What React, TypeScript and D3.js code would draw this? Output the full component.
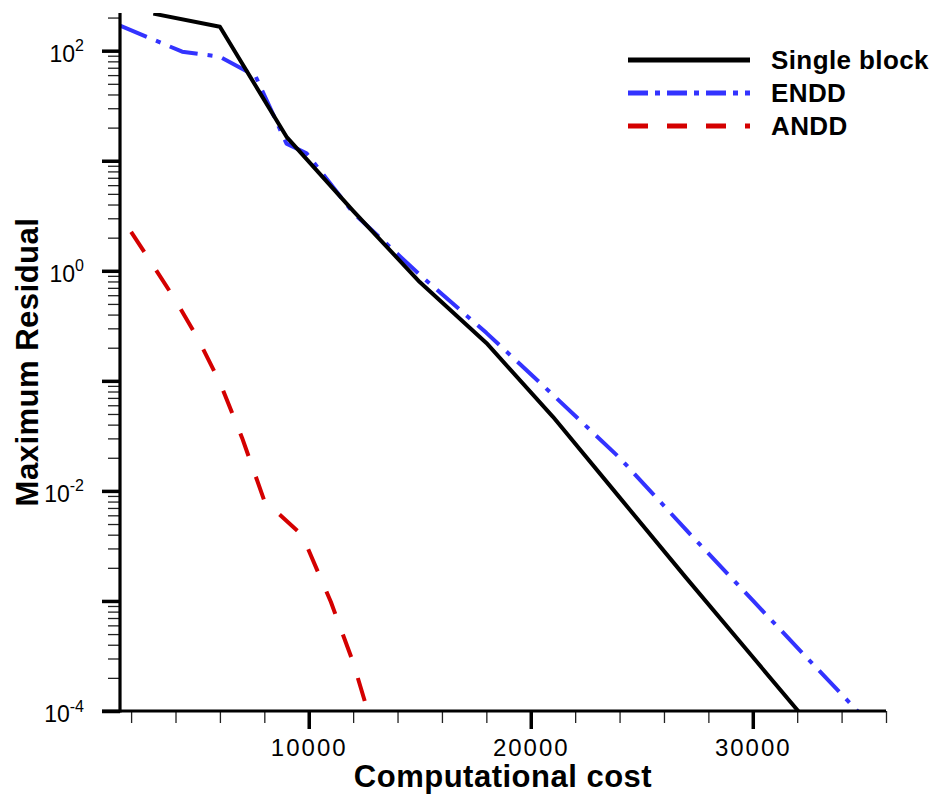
import { useEffect, useRef } from "react";
import * as d3 from "d3";

// Single block run
const singleCost = [3000, 6000, 9000, 12000, 15000, 18000, 21000, 24000, 27000, 30000, 33000];
const singleResidual = [217, 165, 16.5, 3.5, 0.79, 0.221, 0.0471, 0.00873, 0.00162, 0.000309, 5.9e-5];

// ENDD run
const enddCost = [1500, 4300, 6000, 7600, 9000, 9900, 12000, 15000, 18000, 21000, 24000, 27000, 30000, 33000, 35000];
const enddResidual = [169, 98, 88, 59, 14.3, 11.7, 3.37, 0.92, 0.273, 0.0746, 0.02, 0.00442, 0.00101, 0.000231, 8.7e-5];

// ANDD run
const anddCost = [2000, 3000, 4000, 5000, 6000, 7000, 8000, 9700, 11000, 12000, 13000];
const anddResidual = [2.26, 1.11, 0.54, 0.244, 0.0966, 0.0303, 0.00813, 0.00398, 0.000977, 0.000277, 5.9e-5];

const seriesNames = ["Single block", "ENDD", "ANDD"];

const xMajorTicks = [10000, 20000, 30000];
const xMinorTicks = [2000, 4000, 6000, 8000, 10000, 12000, 14000, 16000, 18000, 20000, 22000, 24000, 26000, 28000, 30000, 32000, 34000, 36000];
const yMajorExponents = [-4, -3, -2, -1, 0, 1, 2];
const yLabelExponents = [-4, -2, 0, 2];

const FONT = "'Liberation Sans', Arial, Helvetica, sans-serif";

export default function App() {
  const ref = useRef<SVGSVGElement>(null);

  useEffect(() => {
    const width = 936;
    const height = 798;
    const margin = { top: 13, right: 50, bottom: 87, left: 120 };

    const svg = d3.select(ref.current);
    svg.selectAll("*").remove();
    svg.attr("viewBox", `0 0 ${width} ${height}`);

    const x = d3
      .scaleLinear()
      .domain([1500, 36000])
      .range([margin.left, width - margin.right]);

    const y = d3
      .scaleLog()
      .domain([1e-4, 220])
      .range([height - margin.bottom, margin.top]);

    const x0 = margin.left;
    const y0 = height - margin.bottom;

    svg
      .append("defs")
      .append("clipPath")
      .attr("id", "plot-clip")
      .append("rect")
      .attr("x", x0)
      .attr("y", margin.top)
      .attr("width", width - margin.right - x0)
      .attr("height", y0 - margin.top);

    const series = [
      { name: seriesNames[0], xs: singleCost, ys: singleResidual, color: "#000000", dash: null, legendDash: null },
      { name: seriesNames[1], xs: enddCost, ys: enddResidual, color: "#3333ff", dash: "29 10 5 10", legendDash: "20 7 5 7" },
      { name: seriesNames[2], xs: anddCost, ys: anddResidual, color: "#d40000", dash: "24 22", legendDash: "20 19" },
    ];

    const line = d3
      .line<[number, number]>()
      .x((d) => x(d[0]))
      .y((d) => y(d[1]));

    const plot = svg.append("g").attr("clip-path", "url(#plot-clip)");
    series
      .slice()
      .reverse()
      .forEach((s) => {
        plot
          .append("path")
          .datum(d3.zip(s.xs, s.ys) as [number, number][])
          .attr("d", line)
          .attr("fill", "none")
          .attr("stroke", s.color)
          .attr("stroke-width", 4)
          .attr("stroke-linejoin", "round")
          .attr("stroke-dasharray", s.dash);
      });

    // bottom axis
    const gx = svg.append("g").attr("transform", `translate(0,${y0})`);
    gx.append("g")
      .call(d3.axisBottom(x).tickValues(xMinorTicks).tickSize(12).tickSizeOuter(0).tickFormat(() => ""))
      .call((g) => g.select(".domain").remove())
      .call((g) => g.selectAll("line").attr("stroke", "#222").attr("stroke-width", 1.3));
    gx.append("g")
      .call(d3.axisBottom(x).tickValues(xMajorTicks).tickSize(18).tickSizeOuter(0).tickFormat(d3.format("d")))
      .call((g) => g.select(".domain").remove())
      .call((g) => g.selectAll("line").attr("stroke", "#000").attr("stroke-width", 3.5))
      .call((g) =>
        g
          .selectAll("text")
          .attr("y", 45)
          .attr("dy", null)
          .attr("fill", "#000")
          .attr("font-family", FONT)
          .attr("font-size", 24)
          .attr("letter-spacing", 2),
      );

    // left axis
    const yMinor: number[] = [];
    yMajorExponents.forEach((e) => {
      for (let k = 2; k <= 9; k++) {
        const v = k * Math.pow(10, e);
        if (v <= 220) yMinor.push(v);
      }
    });
    const gy = svg.append("g").attr("transform", `translate(${x0},0)`);
    gy.append("g")
      .call(d3.axisLeft(y).tickValues(yMinor).tickSize(12).tickSizeOuter(0).tickFormat(() => ""))
      .call((g) => g.select(".domain").remove())
      .call((g) => g.selectAll("line").attr("stroke", "#222").attr("stroke-width", 1.3));
    gy.append("g")
      .call(
        d3
          .axisLeft(y)
          .tickValues(yMajorExponents.map((e) => Math.pow(10, e)))
          .tickSize(18)
          .tickSizeOuter(0)
          .tickFormat(() => ""),
      )
      .call((g) => g.select(".domain").remove())
      .call((g) => g.selectAll("line").attr("stroke", "#000").attr("stroke-width", 3.5));

    yLabelExponents.forEach((e) => {
      const t = svg
        .append("text")
        .attr("x", 84)
        .attr("y", y(Math.pow(10, e)) + 11)
        .attr("text-anchor", "end")
        .attr("font-family", FONT)
        .attr("fill", "#000");
      t.append("tspan").attr("font-size", 23).text("10");
      t.append("tspan").attr("font-size", 16).attr("dy", -10.5).text(String(e));
    });

    // axis lines
    svg
      .append("line")
      .attr("x1", x0)
      .attr("x2", x0)
      .attr("y1", margin.top)
      .attr("y2", y0 + 1.6)
      .attr("stroke", "#000")
      .attr("stroke-width", 3.2);
    svg
      .append("line")
      .attr("x1", x0 - 18)
      .attr("x2", width - margin.right)
      .attr("y1", y0)
      .attr("y2", y0)
      .attr("stroke", "#000")
      .attr("stroke-width", 3.2);

    // axis titles
    svg
      .append("text")
      .attr("x", (x0 + width - margin.right) / 2)
      .attr("y", 787)
      .attr("text-anchor", "middle")
      .attr("font-family", FONT)
      .attr("font-weight", "bold")
      .attr("font-size", 31)
      .attr("letter-spacing", 0.5)
      .text("Computational cost");

    svg
      .append("text")
      .attr("transform", `translate(38,${(margin.top + y0) / 2}) rotate(-90)`)
      .attr("text-anchor", "middle")
      .attr("font-family", FONT)
      .attr("font-weight", "bold")
      .attr("font-size", 31)
      .attr("letter-spacing", 0.5)
      .text("Maximum Residual");

    // legend
    const legend = svg.append("g").attr("transform", "translate(628,60)");
    series.forEach((s, i) => {
      const row = legend.append("g").attr("transform", `translate(0,${i * 33})`);
      row
        .append("line")
        .attr("x1", 0)
        .attr("x2", 122)
        .attr("y1", 0)
        .attr("y2", 0)
        .attr("stroke", s.color)
        .attr("stroke-width", 5)
        .attr("stroke-dasharray", s.legendDash);
      row
        .append("text")
        .attr("x", 143)
        .attr("y", 8.5)
        .attr("font-family", FONT)
        .attr("font-weight", "bold")
        .attr("font-size", 26)
        .attr("letter-spacing", 0.4)
        .attr("fill", "#000")
        .text(s.name);
    });
  }, []);

  return (
    <svg
      ref={ref}
      width={936}
      height={798}
      style={{ position: "absolute", left: 0, top: 0, background: "#fff", display: "block" }}
    />
  );
}
